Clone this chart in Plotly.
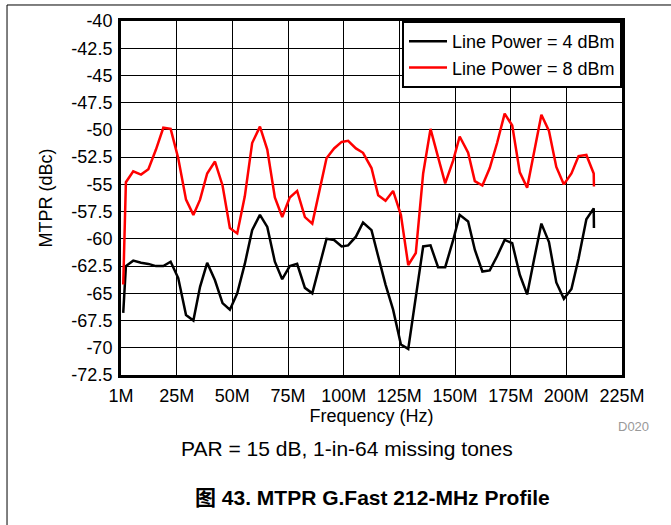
import plotly.graph_objects as go

# Frequency grid (MHz)
freq_mhz = [1.0, 2.2, 5.5, 9.0, 12.3, 15.7, 19.0, 22.3, 25.7, 29.2, 32.5, 35.5, 38.7, 42.2,
            45.6, 48.9, 52.2, 55.6, 58.9, 62.4, 65.7, 69.1, 72.4, 75.8, 79.1, 82.6, 85.9,
            89.3, 92.3, 95.7, 99.1, 102.0, 105.5, 108.7, 112.5, 115.5, 118.8, 122.2, 125.7,
            129.0, 132.4, 135.7, 139.0, 142.4, 145.6, 149.2, 152.1, 155.9, 158.9, 162.3,
            165.6, 168.9, 172.3, 175.7, 179.1, 182.4, 185.5, 188.8, 192.2, 195.5, 198.9,
            202.3, 205.5, 209.0, 212.3, 212.4]

# MTPR (dBc), Line Power = 4 dBm
mtpr_4dbm = [-66.8, -62.5, -62.0, -62.2, -62.3, -62.5, -62.5, -62.1, -63.6, -67.0, -67.5,
             -64.4, -62.2, -63.8, -65.9, -66.5, -65.0, -62.3, -59.2, -57.8, -58.9, -62.1,
             -63.7, -62.5, -62.3, -64.5, -65.0, -62.3, -60.0, -60.1, -60.7, -60.6, -59.8,
             -58.5, -59.2, -61.6, -64.2, -66.5, -69.7, -70.1, -65.3, -60.7, -60.6, -62.6,
             -62.6, -60.1, -57.8, -58.4, -61.0, -63.0, -62.9, -61.6, -60.1, -60.4, -63.3,
             -65.1, -61.9, -58.6, -60.3, -64.0, -65.5, -64.6, -61.8, -58.2, -57.2, -59.0]

# MTPR (dBc), Line Power = 8 dBm
mtpr_8dbm = [-64.2, -54.8, -53.8, -54.1, -53.6, -51.8, -49.8, -49.9, -52.6, -56.4, -57.8,
             -56.4, -54.0, -52.9, -55.1, -59.0, -59.5, -56.1, -51.2, -49.7, -51.8, -56.2,
             -58.0, -56.2, -55.6, -58.0, -58.6, -55.4, -52.6, -51.7, -51.1, -51.0, -51.7,
             -52.1, -53.5, -56.0, -56.5, -55.6, -57.8, -62.4, -61.3, -54.0, -49.9, -52.5,
             -54.9, -52.8, -50.6, -52.1, -54.7, -55.1, -53.5, -51.2, -48.5, -49.6, -53.9,
             -55.3, -52.0, -48.6, -50.1, -53.4, -55.0, -54.0, -52.4, -52.3, -54.0, -55.2]

series_names = ["Line Power = 4 dBm", "Line Power = 8 dBm"]
series_colors = ["#000000", "#ff0000"]

x_tick_vals = [0, 25, 50, 75, 100, 125, 150, 175, 200, 225]
x_tick_text = ["1M", "25M", "50M", "75M", "100M", "125M", "150M", "175M", "200M", "225M"]
y_tick_vals = [-40, -42.5, -45, -47.5, -50, -52.5, -55, -57.5, -60, -62.5, -65, -67.5, -70, -72.5]
y_tick_text = ["-40", "-42.5", "-45", "-47.5", "-50", "-52.5", "-55", "-57.5", "-60",
               "-62.5", "-65", "-67.5", "-70", "-72.5"]

FONT = "Liberation Sans, Arial, Noto Sans CJK SC, sans-serif"

fig = go.Figure()
for name, ys, col in zip(series_names, [mtpr_4dbm, mtpr_8dbm], series_colors):
    fig.add_trace(go.Scatter(x=freq_mhz, y=ys, mode="lines", name=name,
                             line=dict(color=col, width=2.5)))

fig.update_layout(
    width=671, height=525,
    margin=dict(l=121, r=49, t=21, b=150),
    paper_bgcolor="white", plot_bgcolor="white",
    font=dict(family=FONT, size=18, color="black"),
    showlegend=True,
    legend=dict(x=1, xanchor="right", y=1, yanchor="top",
                bgcolor="white", bordercolor="black", borderwidth=2,
                font=dict(size=18), itemwidth=38),
    xaxis=dict(range=[0, 225], tickvals=x_tick_vals, ticktext=x_tick_text,
               showgrid=True, gridcolor="black", gridwidth=1,
               showline=True, linecolor="black", linewidth=3, mirror=True,
               ticks="", zeroline=False, ticklabelstandoff=2,
               title=dict(text="Frequency (Hz)", standoff=2, font=dict(size=18))),
    yaxis=dict(range=[-72.5, -40], tickvals=y_tick_vals, ticktext=y_tick_text,
               showgrid=True, gridcolor="black", gridwidth=1,
               showline=True, linecolor="black", linewidth=3, mirror=True,
               ticks="", zeroline=False, ticklabelstandoff=2,
               title=dict(text="MTPR (dBc)", standoff=15, font=dict(size=18))),
)

fig.add_annotation(text="D020", xref="paper", yref="paper", x=1.0, y=-0.145,
                   xanchor="left", yanchor="middle", showarrow=False,
                   font=dict(size=13, color="#999999"), xshift=-6)
fig.add_annotation(text="PAR = 15 dB, 1-in-64 missing tones", xref="paper", yref="paper",
                   x=0.452, y=-0.209, xanchor="center", yanchor="middle", showarrow=False,
                   font=dict(size=21, color="black"))
fig.add_annotation(text="<b>图 43. MTPR G.Fast 212-MHz Profile</b>", xref="paper", yref="paper",
                   x=0.502, y=-0.345, xanchor="center", yanchor="middle", showarrow=False,
                   font=dict(size=21, color="black"))

# outer frame lines (left and top)
fig.add_shape(type="line", xref="paper", yref="paper", x0=-0.2275, x1=-0.2275, y0=-0.45, y1=1.0452,
              line=dict(color="black", width=1))
fig.add_shape(type="line", xref="paper", yref="paper", x0=-0.2275, x1=1.2, y0=1.0452, y1=1.0452,
              line=dict(color="black", width=1))

fig.write_html("out.html", config={"displayModeBar": False},
               post_script="document.body.style.margin='0px';")
